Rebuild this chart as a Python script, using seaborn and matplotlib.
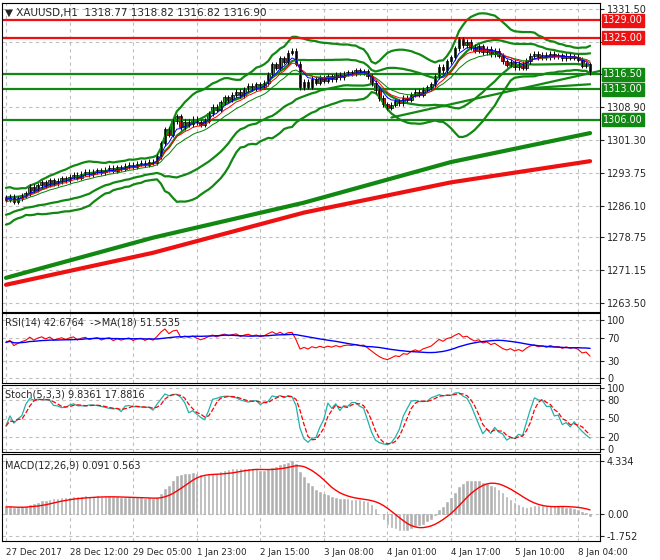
import numpy as np, pandas as pd, matplotlib
matplotlib.use("Agg")
import matplotlib.pyplot as plt
import seaborn as sns
from matplotlib.transforms import blended_transform_factory as btf

history = [1283.0,1283.6,1282.8,1284.0,1284.6,1283.9,1285.0,1285.6,1284.8,1285.9,
           1286.4,1285.7,1286.8,1287.3,1286.5,1287.6,1288.0,1287.2,1288.3,1287.9]
closes = [1287.5,1288.2,1287.0,1287.8,1288.5,
 1289.0,1290.5,1289.8,1290.8,1291.5,1291.0,1292.0,1291.3,1291.8,1292.4,
 1292.0,1292.8,1293.3,1292.6,1293.5,1293.9,1293.4,1294.0,1294.3,1293.8,
 1294.4,1294.8,1294.2,1295.0,1294.7,1295.3,1295.6,1295.1,1295.8,1296.0,1295.6,1296.3,1296.0,
 1297.5,1300.5,1303.8,1302.5,1305.6,1306.8,1304.2,
 1305.5,1305.0,1306.2,1305.4,1304.8,1305.8,
 1307.5,1309.0,1308.3,1310.0,1311.2,1310.6,
 1311.8,1312.5,1311.6,1313.0,1313.8,1313.2,1314.2,1313.6,1314.5,
 1316.5,1318.8,1318.0,1320.2,1319.4,1321.5,1322.0,
 1319.0,1313.5,
 1314.8,1313.6,1315.4,1314.6,1315.8,1315.0,1316.0,1315.4,1316.5,1315.8,1316.6,
 1317.0,1316.8,1317.4,1316.9,1317.2,
 1316.0,1314.5,1312.8,1311.0,1309.6,1308.8,
 1309.5,1310.3,1309.8,1311.0,1310.6,1311.8,1312.5,1311.8,1312.9,1313.5,1314.2,
 1316.0,1318.2,1317.5,1319.5,1320.4,
 1322.5,1324.6,1323.2,1324.0,1322.8,
 1322.0,1323.0,1321.6,1322.4,1321.2,1322.0,1320.8,
 1319.5,1318.7,1319.4,1318.2,1318.9,1318.0,1319.6,1320.8,
 1321.2,1320.5,1321.0,1320.4,1321.3,1320.7,1320.9,1320.2,1320.8,1320.3,1320.6,1319.9,
 1318.5,1318.8,1316.9]
long_ma_bars = [0, 37, 75, 112, 147]
ma_green_vals = [1269.4, 1278.7, 1286.8, 1296.2, 1302.9]
ma_red_vals = [1267.8, 1275.2, 1284.5, 1291.5, 1296.4]
red_levels = [1329.0, 1325.0]
green_levels = [1316.5, 1313.0, 1306.0]
trend1_bars, trend1_vals = [97, 153], [1306.5, 1318.0]
trend2_bars, trend2_vals = [127, 147], [1313.0, 1314.2]
price_ticks = [1331.50, 1323.90, 1316.50, 1308.90, 1301.30, 1293.75, 1286.10, 1278.75, 1271.15, 1263.50]
hidden_ticks = [1323.90, 1316.50]
xlabels = ["27 Dec 2017","28 Dec 12:00","29 Dec 05:00","1 Jan 23:00","2 Jan 15:00",
           "3 Jan 08:00","4 Jan 01:00","4 Jan 17:00","5 Jan 10:00","8 Jan 04:00"]
WICK = 0.6

allc = pd.Series(history + closes)
n0 = len(history)
c = np.array(closes); N = len(c)
o = np.array(allc.shift(1).iloc[n0:])
hi = np.maximum(o, c) + WICK; lo = np.minimum(o, c) - WICK
x = np.arange(N)
mid = allc.rolling(20, min_periods=1).mean(); sd = allc.rolling(20, min_periods=1).std().fillna(0)
bb_up = (mid + 2.6*sd).iloc[n0:].values; bb_lo = (mid - 2.6*sd).iloc[n0:].values
in_up = (mid + 1.2*sd).iloc[n0:].values; in_lo = (mid - 1.2*sd).iloc[n0:].values
e5 = allc.ewm(span=5).mean().iloc[n0:].values
e8 = allc.ewm(span=8).mean().iloc[n0:].values
e13 = allc.ewm(span=13).mean().iloc[n0:].values
d = allc.diff(); g = d.clip(lower=0).ewm(alpha=1/14).mean(); l = (-d.clip(upper=0)).ewm(alpha=1/14).mean()
rsi = (100 - 100/(1+g/l)).iloc[n0:].values
rsi_ma = pd.Series(rsi).rolling(18, min_periods=1).mean().values
H = pd.Series(hi); L = pd.Series(lo); C = pd.Series(c)
hh = H.rolling(5, min_periods=1).max(); ll = L.rolling(5, min_periods=1).min()
k = ((C-ll).rolling(3, min_periods=1).sum()/(hh-ll).rolling(3, min_periods=1).sum()*100).values
ksig = pd.Series(k).rolling(3, min_periods=1).mean().values
macd = (allc.ewm(span=12).mean() - allc.ewm(span=26).mean()).iloc[n0:].values
msig = pd.Series(macd).rolling(9, min_periods=1).mean().values

sns.set_style("white")
fig = plt.figure(figsize=(6.6, 5.6), dpi=100)
L0, W0 = 2/660, 598/660
ax = fig.add_axes([L0, 1-312/560, W0, 309/560])
ar = fig.add_axes([L0, 1-383/560, W0, 70/560])
ast = fig.add_axes([L0, 1-452/560, W0, 67/560])
am = fig.add_axes([L0, 1-541/560, W0, 87/560])
for a in (ax, ar, ast, am):
    a.set_xlim(-1, 149.5)
    a.grid(True, color="#c0c0c0", ls=(0, (3, 3)), lw=0.8)
    a.yaxis.tick_right(); a.tick_params(axis="y", labelsize=7, length=3, pad=2)
    a.set_xticks(np.arange(0, 150, 16)); a.tick_params(axis="x", length=3)
    for s in a.spines.values(): s.set_color("black"); s.set_linewidth(0.8)
    if a is not am: a.set_xticklabels([])
am.set_xticklabels(xlabels, fontsize=6.3, ha="left")
am.tick_params(axis="x", pad=2)

# main
ax.set_ylim(1261.5, 1333.0)
ax.set_yticks(price_ticks)
ax.set_yticklabels(["" if v in hidden_ticks else f"{v:.2f}" for v in price_ticks])
sns.lineplot(x=long_ma_bars, y=ma_green_vals, ax=ax, color="#118811", lw=3)
sns.lineplot(x=long_ma_bars, y=ma_red_vals, ax=ax, color="#ee1111", lw=3)
for yv in bb_up, bb_lo, in_up, in_lo:
    sns.lineplot(x=x, y=yv, ax=ax, color="#118811", lw=1.6)
for lv in red_levels: ax.axhline(lv, color="#ee1111", lw=1.6)
for lv in green_levels: ax.axhline(lv, color="#118811", lw=1.6)
sns.lineplot(x=trend1_bars, y=trend1_vals, ax=ax, color="#118811", lw=1.6)
sns.lineplot(x=trend2_bars, y=trend2_vals, ax=ax, color="#118811", lw=1.6)
ax.vlines(x, lo, hi, color="black", lw=0.7)
up = c >= o
ax.bar(x[up], (c-o)[up], bottom=o[up], width=0.7, color="#22aa22", edgecolor="black", lw=0.5)
ax.bar(x[~up], (o-c)[~up], bottom=c[~up], width=0.7, color="#ee1111", edgecolor="black", lw=0.5)
sns.lineplot(x=x, y=e13, ax=ax, color="green", lw=0.7)
sns.lineplot(x=x, y=e8, ax=ax, color="red", lw=0.7)
sns.lineplot(x=x, y=e5, ax=ax, color="blue", lw=0.7)
tr = btf(ax.transAxes, ax.transData)
for lv, col in [(1329.0, "#ee1111"), (1325.0, "#ee1111"), (1316.5, "#118811"), (1313.0, "#118811"), (1306.0, "#118811")]:
    ax.text(1.005, lv, f"{lv:.2f}", transform=tr, fontsize=7, color="white", va="center", ha="left",
            bbox=dict(boxstyle="square,pad=0.15", fc=col, ec=col), clip_on=False)
ax.text(0.005, 0.985, "\u25bc XAUUSD,H1  1318.77 1318.82 1316.82 1316.90", transform=ax.transAxes,
        fontsize=7.5, va="top", ha="left")

# RSI
ar.set_ylim(-8, 112); ar.set_yticks([0, 30, 70, 100])
sns.lineplot(x=x, y=rsi, ax=ar, color="red", lw=0.8)
sns.lineplot(x=x, y=rsi_ma, ax=ar, color="blue", lw=1)
ar.text(0.005, 0.93, "RSI(14) 42.6764  ->MA(18) 51.5535", transform=ar.transAxes, fontsize=7, va="top")

# Stoch
ast.set_ylim(-5, 105); ast.set_yticks([0, 20, 50, 80, 100])
sns.lineplot(x=x, y=k, ax=ast, color="#20b2aa", lw=0.9)
sns.lineplot(x=x, y=ksig, ax=ast, color="red", lw=0.9, linestyle="--")
ast.text(0.005, 0.93, "Stoch(5,3,3) 9.8361 17.8816", transform=ast.transAxes, fontsize=7, va="top")

# MACD
am.set_ylim(-2.2, 4.9); am.set_yticks([-1.752, 0.0, 4.334]); am.set_yticklabels(["-1.752", "0.00", "4.334"])
am.bar(x, macd, width=0.4, color="#b0b0b0", edgecolor="#b0b0b0", lw=0.4)
sns.lineplot(x=x, y=msig, ax=am, color="red", lw=1)
am.text(0.005, 0.93, "MACD(12,26,9) 0.091 0.563", transform=am.transAxes, fontsize=7, va="top")
for a in (ax, ar, ast, am): a.set_xlabel(""); a.set_ylabel("")
fig.savefig("out.png", dpi=100)
